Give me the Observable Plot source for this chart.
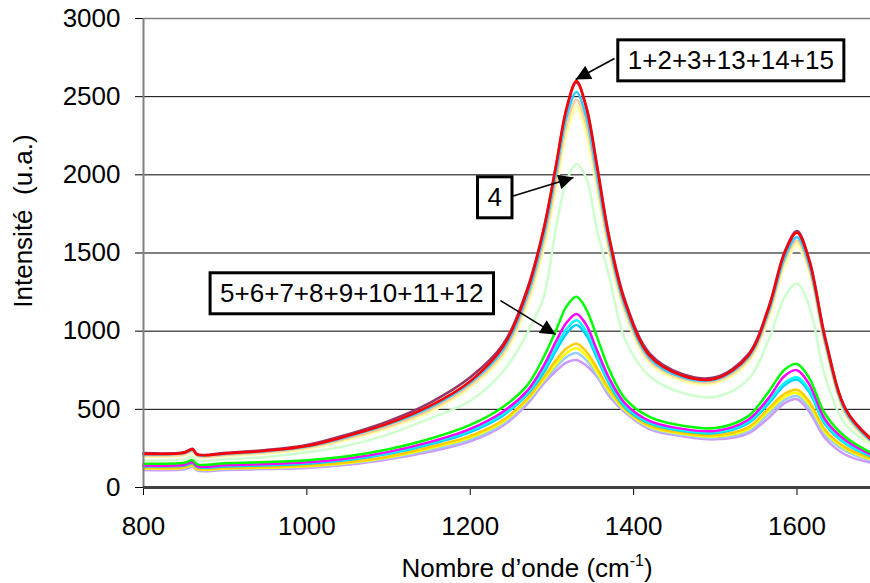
<!DOCTYPE html>
<html><head><meta charset="utf-8">
<script src="https://cdn.jsdelivr.net/npm/d3@7"></script>
<script src="https://cdn.jsdelivr.net/npm/@observablehq/plot@0.6"></script>
<style>html,body{margin:0;padding:0;background:#fff;}</style>
</head><body>
<script>
// ---- data ----
const wavenumbers = [800, 850, 860, 866, 900, 950, 1000, 1050, 1100, 1150, 1200, 1240, 1270, 1290, 1305, 1318, 1330, 1342, 1355, 1370, 1390, 1420, 1460, 1500, 1540, 1565, 1585, 1600, 1615, 1635, 1660, 1690];

// group "1+2+3+13+14+15"
const sRed     = [215,222,245,210,218,235,265,330,410,520,680,900,1260,1650,2060,2430,2600,2430,2060,1595,1175,840,715,695,840,1140,1500,1630,1450,940,495,310];
const sMaroon  = [220,226,248,213,222,240,272,340,425,540,705,915,1275,1660,2060,2420,2590,2440,2070,1610,1190,855,725,705,850,1150,1510,1640,1460,950,500,315];
const sSky     = [212,220,240,208,215,232,262,325,405,510,670,880,1230,1610,2010,2370,2530,2370,2000,1560,1150,825,705,690,830,1120,1470,1600,1420,920,480,300];
const sPeach   = [205,212,232,200,208,225,255,315,392,495,655,860,1200,1570,1960,2320,2480,2320,1960,1530,1130,810,695,680,815,1100,1450,1580,1400,905,470,295];
const sPYellow = [200,208,228,197,204,220,250,308,385,485,645,845,1180,1540,1920,2280,2440,2280,1930,1510,1115,800,685,672,805,1085,1430,1560,1385,895,462,290];
const sCream   = [198,205,225,195,202,218,246,302,378,478,638,835,1165,1520,1900,2250,2410,2250,1900,1490,1100,790,678,665,795,1070,1410,1540,1370,885,455,285];
// spectrum "4"
const sPGreen  = [172,180,198,172,180,195,225,268,340,440,555,740,990,1220,1665,1960,2070,1980,1650,1350,940,710,605,580,690,940,1220,1305,1160,700,400,280];
// group "5+6+7+8+9+10+11+12"
const sGreen   = [152,158,175,148,155,163,175,200,245,310,400,515,655,835,1005,1160,1220,1140,965,755,565,450,395,380,455,610,755,790,700,465,320,225];
const sMagenta = [140,146,162,136,142,150,162,186,228,290,375,485,620,780,935,1055,1110,1040,880,700,535,425,375,362,432,570,715,750,660,430,300,212];
const sCyan    = [142,146,160,135,140,148,158,182,222,283,365,470,605,755,900,1015,1070,1000,850,680,520,415,368,355,420,550,670,705,625,410,285,205];
const sSky2    = [135,140,155,130,135,142,152,176,215,275,355,460,595,735,875,985,1040,975,830,665,510,408,362,348,410,535,655,690,610,400,278,200];
const sGold    = [125,130,145,120,124,131,140,162,198,258,330,430,570,705,815,890,920,870,765,630,500,395,350,335,385,505,600,625,550,365,255,188];
const sYellow  = [122,127,142,117,121,127,136,157,193,250,320,420,560,690,790,860,890,842,740,615,492,388,343,327,372,490,580,605,532,350,245,180];
const sLBlue   = [120,124,138,114,118,124,132,153,188,240,308,408,550,680,770,835,860,815,720,600,485,380,336,318,360,470,560,585,512,335,232,172];
const sLav     = [112,116,132,108,112,118,125,145,180,228,295,395,535,665,745,800,815,780,710,585,478,372,328,308,345,445,540,565,485,312,208,160];

const seriesNames  = ["lav","lblue","yellow","gold","sky2","cyan","magenta","green","pgreen","cream","pyellow","peach","sky","maroon","red"];
const seriesColors = ["#cc99ff","#99ccff","#ffff00","#ffcc00","#00ccff","#00ffff","#ff00ff","#00ff00","#ccffcc","#ffffcc","#ffff99","#ffcc99","#33ccff","#993366","#ff0000"];
const seriesValues = [sLav,sLBlue,sYellow,sGold,sSky2,sCyan,sMagenta,sGreen,sPGreen,sCream,sPYellow,sPeach,sSky,sMaroon,sRed];

const xTicks = [800, 1000, 1200, 1400, 1600];
const yTicks = [0, 500, 1000, 1500, 2000, 2500, 3000];

const annLabels = ["1+2+3+13+14+15", "4", "5+6+7+8+9+10+11+12"];
const annBoxX   = [1519, 1230, 1055];
const annBoxY   = [2728, 1852, 1238];
const annFromX  = [1376.6, 1250.5, 1237];
const annFromY  = [2744, 1861, 1196];
const annToX    = [1329, 1326.4, 1304.4];
const annToY    = [2610, 1983, 979];

// ---- build tables ----
const rows = [];
seriesValues.forEach((vals, k) => vals.forEach((v, i) =>
  rows.push({series: seriesNames[k], color: seriesColors[k], x: wavenumbers[i], y: v})));
const annotations = annLabels.map((label, i) => ({
  label, x: annBoxX[i], y: annBoxY[i],
  x1: annFromX[i], y1: annFromY[i], x2: annToX[i], y2: annToY[i]
}));

const FONT = "'Liberation Sans', Arial, Helvetica, sans-serif";

const chart = Plot.plot({
  width: 870, height: 583,
  marginLeft: 143, marginRight: 0, marginTop: 18, marginBottom: 96,
  style: {fontFamily: FONT, fontSize: "26px", color: "#000", background: "#fff", overflow: "visible"},
  x: {domain: [800, 1690], ticks: xTicks, tickSize: 8, tickPadding: 21, tickFormat: d => String(d), label: null},
  y: {domain: [0, 3000], ticks: yTicks, tickSize: 8, tickPadding: 15, tickFormat: d => String(d), label: null},
  color: {type: "identity"},
  marks: [
    Plot.ruleY(yTicks.filter(d => d > 0 && d < 3000), {stroke: "#000", strokeWidth: 1}),
    Plot.ruleY([3000], {stroke: "#808080", strokeWidth: 1.5}),
    Plot.line(rows, {x: "x", y: "y", z: "series", stroke: "color", strokeWidth: 2.5, curve: "catmull-rom"}),
    Plot.ruleX([800], {stroke: "#808080", strokeWidth: 2}),
    Plot.ruleY([0], {stroke: "#404040", strokeWidth: 3}),
    Plot.link(annotations, {x1: "x1", y1: "y1", x2: "x2", y2: "y2", stroke: "#000", strokeWidth: 1.5}),
    Plot.text(annotations, {x: "x", y: "y", text: "label", fontSize: 26, fill: "#000"})
  ]
});

document.body.append(chart);
const svg = d3.select(chart);

// filled arrowheads
const defs = svg.append("defs");
defs.append("marker").attr("id", "ah").attr("viewBox", "0 0 10 10")
  .attr("refX", 10).attr("refY", 5).attr("markerUnits", "userSpaceOnUse")
  .attr("markerWidth", 18).attr("markerHeight", 15).attr("orient", "auto")
  .append("path").attr("d", "M0,0L10,5L0,10Z").attr("fill", "#000");
svg.selectAll('g[aria-label="link"] path').attr("marker-end", "url(#ah)");

// boxes behind annotation labels
svg.selectAll('g[aria-label="text"] text').each(function() {
  const b = this.getBBox();
  const padX = 10, padY = 5.5;
  const r = document.createElementNS("http://www.w3.org/2000/svg", "rect");
  r.setAttribute("x", b.x - padX);
  r.setAttribute("y", b.y - padY);
  r.setAttribute("width", b.width + 2 * padX);
  r.setAttribute("height", b.height + 2 * padY);
  r.setAttribute("fill", "#fff");
  r.setAttribute("stroke", "#000");
  r.setAttribute("stroke-width", 3);
  const t = this.getAttribute("transform");
  if (t) r.setAttribute("transform", t);
  this.parentNode.insertBefore(r, this);
});

// axis titles
svg.append("text")
  .attr("transform", "translate(32,221) rotate(-90)")
  .attr("text-anchor", "middle")
  .attr("fill", "#000")
  .style("white-space", "pre")
  .style("font-family", FONT).style("font-size", "26px")
  .text("Intensité  (u.a.)");

const xt = svg.append("text")
  .attr("x", 527).attr("y", 577)
  .attr("text-anchor", "middle")
  .attr("fill", "#000")
  .style("font-family", FONT).style("font-size", "26px");
xt.append("tspan").text("Nombre d’onde (cm");
xt.append("tspan").attr("dy", -11).style("font-size", "16px").text("-1");
xt.append("tspan").attr("dy", 11).text(")");
</script>
</body></html>
